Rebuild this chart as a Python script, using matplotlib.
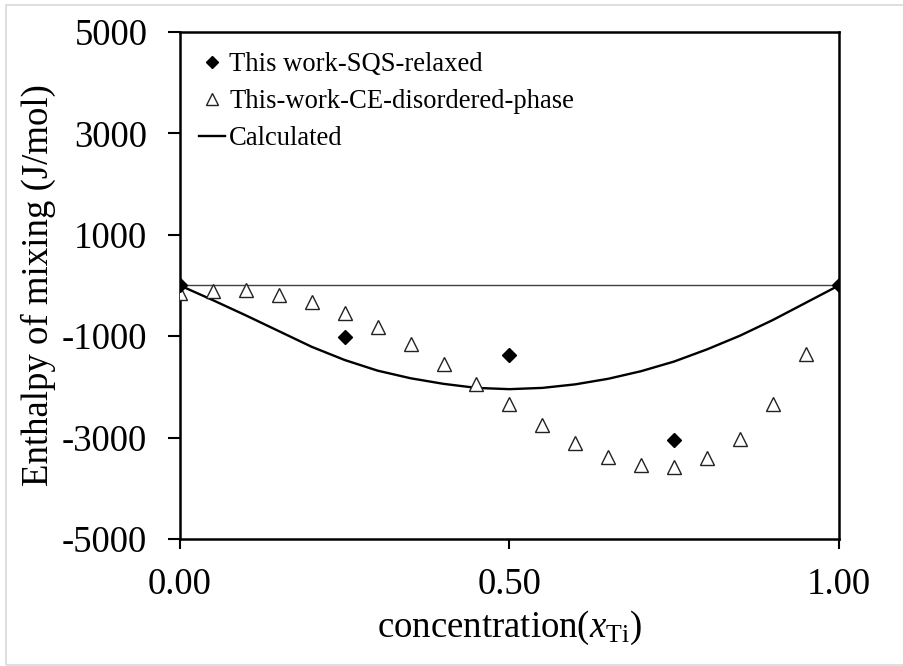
import numpy as np
import matplotlib.pyplot as plt
from matplotlib.patches import Rectangle

plt.rcParams['font.family'] = ['Liberation Serif', 'DejaVu Serif']
plt.rcParams['mathtext.fontset'] = 'custom'
plt.rcParams['mathtext.rm'] = 'Liberation Serif'
plt.rcParams['mathtext.it'] = 'Liberation Serif:italic'

# SQS relaxed points
x_sqs = [0.0, 0.25, 0.50, 0.75, 1.0]
h_sqs = [0, -1020, -1380, -3050, 0]

# cluster expansion, disordered phase
x_ce = [0.00, 0.05, 0.10, 0.15, 0.20, 0.25, 0.30, 0.35, 0.40, 0.45,
        0.50, 0.55, 0.60, 0.65, 0.70, 0.75, 0.80, 0.85, 0.90, 0.95]
h_ce = [-150, -100, -90, -180, -320, -535, -810, -1155, -1540, -1935,
        -2340, -2745, -3105, -3390, -3550, -3580, -3410, -3030, -2340, -1350]

# calculated curve
x_calc = [0.00, 0.05, 0.10, 0.15, 0.20, 0.25, 0.30, 0.35, 0.40, 0.45, 0.50,
          0.55, 0.60, 0.65, 0.70, 0.75, 0.80, 0.85, 0.90, 0.95, 1.00]
h_calc = [0, -290, -590, -900, -1210, -1470, -1680, -1830, -1940, -2020, -2045,
          -2020, -1950, -1840, -1690, -1500, -1260, -990, -680, -340, 0]

fig = plt.figure(figsize=(9.04, 6.66), dpi=100)
ax = fig.add_axes([0.1991, 0.1907, 0.7288, 0.7613])

# light grey frame round the whole picture
fig.patches.append(Rectangle((6 / 904, 1.5 / 666), 1.2, 660 / 666, transform=fig.transFigure,
                             fill=False, edgecolor='#d9d9d9', linewidth=1.2))

ax.axhline(0, color='#404040', linewidth=1.0, zorder=1)

ax.plot(x_calc, h_calc, color='black', linewidth=1.7, label='Calculated', zorder=2)
ax.plot(x_sqs, h_sqs, linestyle='none', marker='D', markersize=7.5, color='black',
        label='This work-SQS-relaxed', zorder=4)
ax.plot(x_ce, h_ce, linestyle='none', marker='^', markersize=10, markerfacecolor='white',
        markeredgecolor='#222222', markeredgewidth=1.0,
        label='This-work-CE-disordered-phase', zorder=3)

ax.set_xlim(0, 1)
ax.set_ylim(-5000, 5000)
ax.set_xticks([0, 0.5, 1.0])
ax.set_xticklabels(['0.00', '0.50', '1.00'])
ax.set_yticks([5000, 3000, 1000, -1000, -3000, -5000])
ax.set_yticklabels(['5000', '3000', '1000', '-1000', '-3000', '-5000'])
ax.tick_params(axis='both', direction='out', labelsize=26.5, width=1.5, color='black')
ax.tick_params(axis='y', length=8.5, pad=15)
ax.tick_params(axis='x', length=7.5, pad=13)
for s in ax.spines.values():
    s.set_linewidth(1.8)

ax.set_xlabel(r'concentration($x_{\mathrm{Ti}}$)', fontsize=26.5, labelpad=5)
ax.set_ylabel('Enthalpy of mixing (J/mol)', fontsize=26.5, labelpad=4)

h, l = ax.get_legend_handles_labels()
order = [1, 2, 0]
ax.legend([h[i] for i in order], [l[i] for i in order], loc='upper left',
          bbox_to_anchor=(0.0, 0.997),
          frameon=False, fontsize=19.2, markerscale=0.85, handlelength=1.0,
          handletextpad=0.15, labelspacing=0.45, borderaxespad=0.3)

plt.savefig('out.png', dpi=100)
